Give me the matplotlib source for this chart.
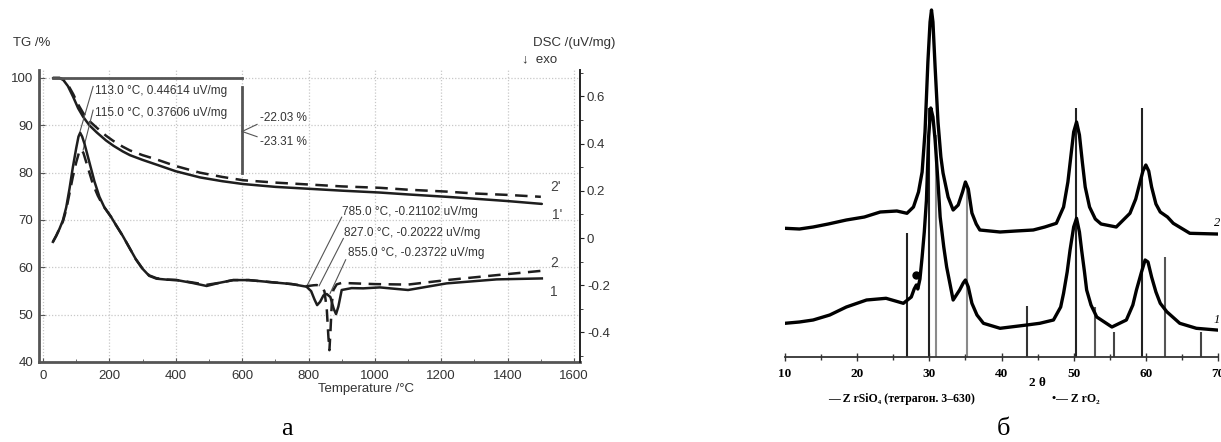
import matplotlib
matplotlib.use("Agg")
import matplotlib.pyplot as plt
from matplotlib.ticker import MultipleLocator

W, H = 1221, 442

# ---------------- Panel a: TG / DSC ----------------
tg_solid_T = [30, 50, 61, 75, 91, 106, 121, 140, 162, 190, 212, 240, 262, 300, 342, 400, 473, 540, 603, 700, 800, 900, 1015, 1100, 1216, 1300, 1400, 1503]
tg_solid_v = [100, 100, 99.6, 98.3, 96.0, 93.6, 91.8, 90.0, 88.5, 86.8, 85.7, 84.5, 83.7, 82.7, 81.7, 80.3, 79.0, 78.2, 77.6, 77.0, 76.6, 76.2, 75.8, 75.4, 74.9, 74.5, 74.0, 73.4]

tg_dash_T = [30, 50, 61, 75, 91, 106, 121, 140, 162, 190, 212, 240, 262, 300, 342, 400, 473, 540, 603, 700, 800, 900, 1015, 1100, 1216, 1300, 1400, 1500]
tg_dash_v = [100, 100, 99.7, 98.6, 96.6, 94.4, 92.6, 90.9, 89.5, 87.8, 86.7, 85.5, 84.7, 83.7, 82.8, 81.4, 80.0, 79.1, 78.4, 77.9, 77.5, 77.1, 76.8, 76.4, 76.0, 75.6, 75.3, 74.9]

dsc_solid_T = [30, 40, 50, 60, 70, 80, 90, 100, 107, 112, 118, 125, 140, 155, 170, 185, 195, 205, 220, 240, 260, 280, 300, 320, 342, 372, 403, 450, 493, 530, 573, 620, 673, 750, 794, 808, 818, 826, 835, 845, 855, 866, 876, 883, 890, 900, 930, 965, 1015, 1100, 1216, 1367, 1503]
dsc_solid_v = [-0.016, 0.01, 0.04, 0.075, 0.13, 0.21, 0.30, 0.38, 0.43, 0.446, 0.43, 0.40, 0.32, 0.24, 0.175, 0.13, 0.11, 0.09, 0.055, 0.01, -0.04, -0.09, -0.13, -0.16, -0.172, -0.176, -0.178, -0.19, -0.203, -0.19, -0.178, -0.178, -0.185, -0.195, -0.206, -0.225, -0.26, -0.284, -0.27, -0.243, -0.237, -0.25, -0.30, -0.322, -0.29, -0.22, -0.212, -0.213, -0.209, -0.22, -0.192, -0.175, -0.171]

dsc_dash_T = [30, 40, 50, 60, 70, 80, 90, 100, 108, 115, 122, 135, 150, 165, 180, 195, 205, 220, 240, 260, 280, 300, 320, 342, 372, 403, 450, 493, 530, 573, 620, 673, 750, 794, 815, 825, 838, 848, 855, 860, 863, 866, 870, 875, 885, 900, 1000, 1100, 1216, 1367, 1500]
dsc_dash_v = [-0.016, 0.01, 0.04, 0.07, 0.12, 0.19, 0.26, 0.32, 0.36, 0.376, 0.36, 0.30, 0.23, 0.18, 0.14, 0.11, 0.09, 0.055, 0.01, -0.04, -0.09, -0.13, -0.158, -0.17, -0.176, -0.178, -0.188, -0.198, -0.19, -0.178, -0.178, -0.185, -0.195, -0.204, -0.2, -0.199, -0.205, -0.225, -0.30, -0.42, -0.475, -0.40, -0.28, -0.22, -0.196, -0.19, -0.195, -0.197, -0.178, -0.157, -0.139]

tg_ticks = [40, 50, 60, 70, 80, 90, 100]
dsc_ticks = [-0.4, -0.2, 0, 0.2, 0.4, 0.6]
dsc_ticklabels = ["-0.4", "-0.2", "0", "0.2", "0.4", "0.6"]
temp_ticks = [0, 200, 400, 600, 800, 1000, 1200, 1400, 1600]

peak_notes = ["113.0 °C, 0.44614 uV/mg", "115.0 °C, 0.37606 uV/mg"]
step_notes = ["-22.03 %", "-23.31 %"]
onset_notes = ["785.0 °C, -0.21102 uV/mg", "827.0 °C, -0.20222 uV/mg", "855.0 °C, -0.23722 uV/mg"]
curve_labels = ["2'", "1'", "2", "1"]

# ---------------- Panel b: XRD ----------------
xrd2_theta = [10.0, 12.0, 13.9, 16.0, 18.5, 21.0, 23.2, 25.5, 26.9, 27.8, 28.5, 29.0, 29.4, 29.8, 30.1, 30.3, 30.5, 30.8, 31.2, 31.6, 31.9, 32.6, 33.3, 34.0, 34.6, 35.0, 35.4, 35.9, 36.5, 37.0, 39.8, 42.0, 44.4, 46.0, 47.6, 48.6, 49.2, 49.6, 50.0, 50.4, 50.8, 51.2, 51.6, 52.2, 53.0, 53.8, 55.9, 57.8, 58.6, 59.2, 59.6, 60.0, 60.4, 60.8, 61.4, 62.0, 62.6, 63.0, 63.8, 66.1, 69.8]
xrd2_int = [128.7, 128, 130, 133, 137, 140, 145, 146, 143.7, 150, 165, 185, 225, 295, 335, 347, 335, 290, 235, 200, 184, 160, 147, 152, 165, 175, 168, 144, 133, 127, 125, 126, 127, 130, 133.7, 150, 175, 200, 225, 235, 222, 195, 170, 150, 138, 133, 130, 143.7, 158, 175, 186, 192, 186, 170, 153, 145, 142, 140, 133.7, 123.7, 123]

xrd1_theta = [10.0, 12.0, 13.9, 16.2, 18.5, 21.3, 24.0, 26.4, 27.5, 27.9, 28.2, 28.4, 28.7, 29.0, 29.3, 29.6, 29.9, 30.2, 30.5, 30.8, 31.2, 31.5, 32.0, 32.4, 33.3, 34.2, 34.7, 35.0, 35.4, 35.9, 36.6, 37.5, 39.8, 43.5, 45.3, 47.2, 48.2, 48.6, 49.1, 49.5, 50.0, 50.4, 50.8, 51.1, 51.5, 51.8, 52.4, 53.2, 55.3, 57.3, 58.2, 58.7, 59.4, 59.9, 60.3, 60.8, 61.4, 62.0, 62.9, 64.7, 67.0, 69.8]
xrd1_int = [33.7, 35, 37, 42, 50, 57, 58.7, 53.7, 60, 68, 72, 68, 78, 100, 125, 157, 220, 249, 240, 217, 175, 140, 110, 90, 57, 67, 74, 77, 70, 53.7, 42, 33.7, 28.7, 32, 33.7, 37, 50, 63.7, 85, 107, 130, 138.7, 125, 107, 85, 67, 52, 40, 30, 37, 52, 67, 85, 97, 95, 80, 65, 53.7, 45.3, 33.7, 28.7, 27]

stick_pos = [26.9, 30.0, 30.9, 35.2, 43.5, 50.3, 53.0, 55.6, 59.5, 62.7, 67.7]
stick_h = [124, 249, 222, 170, 51, 249, 50, 25, 249, 100, 25]
stick_shade = ["#222222", "#222222", "#8a8a8a", "#8a8a8a", "#333333", "#222222", "#555555", "#444444", "#222222", "#555555", "#444444"]
zro2_marker = (28.1, 82)
xrd_ticks = [10, 20, 30, 40, 50, 60, 70]

# ---------------- figure ----------------
fig = plt.figure(figsize=(W / 100, H / 100), dpi=100)

def fx(x):
    return x / W

def fy(y):
    return 1 - y / H

sans = "Liberation Sans"
serif = "Liberation Serif"
gray_txt = "#333333"

ax = fig.add_axes([fx(39), fy(362), (580 - 39) / W, (362 - 70) / H])
ax.set_xlim(-12, 1618)
ax.set_ylim(40, 101.69)
ax2 = ax.twinx()
ax2.set_ylim(-0.525, 0.712)

for s in ["top", "right"]:
    ax.spines[s].set_visible(False)
for s in ["left", "bottom"]:
    ax.spines[s].set_color("#555555")
    ax.spines[s].set_linewidth(2.0)
for s in ["top", "left", "bottom"]:
    ax2.spines[s].set_visible(False)
ax2.spines["right"].set_color("#222222")
ax2.spines["right"].set_linewidth(1.4)

ax.set_xticks(temp_ticks)
ax.xaxis.set_minor_locator(MultipleLocator(100))
ax.set_yticks(tg_ticks)
ax.tick_params(axis="both", which="both", direction="in", colors="#555555", labelcolor=gray_txt, labelsize=9.5)
ax.tick_params(axis="x", which="major", length=3, pad=6)
ax.tick_params(axis="x", which="minor", length=2)
ax.tick_params(axis="y", which="major", length=4, pad=4)
for lab in ax.get_xticklabels() + ax.get_yticklabels():
    lab.set_family(sans)
ax2.set_yticks(dsc_ticks)
ax2.set_yticklabels(dsc_ticklabels)
ax2.yaxis.set_minor_locator(MultipleLocator(0.1))
ax2.tick_params(axis="y", which="both", direction="out", colors="#222222", labelcolor=gray_txt, labelsize=9.5, length=3, pad=2)
ax2.tick_params(axis="y", which="minor", length=2)
for lab in ax2.get_yticklabels():
    lab.set_family(sans)

ax.grid(True, which="major", color="#c8c8c8", linestyle=(0, (1, 1.5)), linewidth=0.9)
ax.set_axisbelow(True)

line_c = "#1e1e1e"
ax.plot(tg_solid_T, tg_solid_v, color=line_c, lw=1.8, solid_capstyle="round")
ax.plot(tg_dash_T, tg_dash_v, color=line_c, lw=1.8, ls=(0, (5, 3)))
ax2.plot(dsc_solid_T, dsc_solid_v, color=line_c, lw=1.8)
ax2.plot(dsc_dash_T, dsc_dash_v, color=line_c, lw=1.8, ls=(0, (5, 3)))

# step annotation
ann_c = "#555555"
ax.plot([30, 600], [100, 100], color=ann_c, lw=2.0)
ax.plot([600, 600], [98.0, 80.0], color=ann_c, lw=2.0)
ax.plot([600, 645], [88.7, 90.2], color=ann_c, lw=0.8)
ax.plot([600, 645], [88.7, 87.6], color=ann_c, lw=0.8)
ax.text(654, 91.5, step_notes[0], fontsize=8.5, family=sans, color=gray_txt, va="center")
ax.text(654, 86.5, step_notes[1], fontsize=8.5, family=sans, color=gray_txt, va="center")

# peak annotations
ax.plot([151, 111.5], [98.2, 88.7], color=ann_c, lw=0.8)
ax.plot([151, 121], [93.2, 84.8], color=ann_c, lw=0.8)
ax.text(157, 97.3, peak_notes[0], fontsize=8.5, family=sans, color=gray_txt, va="center")
ax.text(157, 92.6, peak_notes[1], fontsize=8.5, family=sans, color=gray_txt, va="center")

# onset annotations
ax.plot([900, 794], [70.6, 55.9], color=ann_c, lw=0.8)
ax.plot([905, 832], [66.1, 56.1], color=ann_c, lw=0.8)
ax.plot([912, 865], [61.6, 54.5], color=ann_c, lw=0.8)
ax.text(901, 71.7, onset_notes[0], fontsize=8.5, family=sans, color=gray_txt, va="center")
ax.text(907, 67.3, onset_notes[1], fontsize=8.5, family=sans, color=gray_txt, va="center")
ax.text(919, 63.0, onset_notes[2], fontsize=8.5, family=sans, color=gray_txt, va="center")

# curve labels
for lab, (tx, ty) in zip(curve_labels, [(1528, 77.0), (1534, 71.1), (1528, 60.9), (1528, 54.8)]):
    ax.text(tx, ty, lab, fontsize=10, family=sans, color="#444444", va="center")

fig.text(fx(13), fy(43), "TG /%", fontsize=9.5, family=sans, color=gray_txt, va="center")
fig.text(fx(533), fy(43), "DSC /(uV/mg)", fontsize=9.5, family=sans, color=gray_txt, va="center")
fig.text(fx(522), fy(59), "↓  exo", fontsize=9.5, family=["Liberation Sans", "DejaVu Sans"], color=gray_txt, va="center")
fig.text(fx(366), fy(389), "Temperature /°C", fontsize=9.5, family=sans, color=gray_txt, ha="center", va="center")
fig.text(fx(287), fy(429), "а", fontsize=19, family=serif, color="black", ha="center", va="center")

# ---------------- XRD axes ----------------
ax3 = fig.add_axes([fx(785), fy(357), 433 / W, 352 / H])
ax3.set_xlim(10, 70)
ax3.set_ylim(0, 352)
for s in ["top", "right", "left"]:
    ax3.spines[s].set_visible(False)
ax3.spines["bottom"].set_color("#333333")
ax3.spines["bottom"].set_linewidth(1.3)
ax3.set_yticks([])
ax3.set_xticks(xrd_ticks)
ax3.xaxis.set_minor_locator(MultipleLocator(5))
ax3.tick_params(axis="x", which="major", direction="inout", length=6, width=1.0, colors="#333333",
                labelcolor="black", labelsize=9.5, pad=5)
ax3.tick_params(axis="x", which="minor", direction="inout", length=4, width=1.0, colors="#333333")
for lab in ax3.get_xticklabels():
    lab.set_family(serif)
    lab.set_fontweight("bold")

ax3.vlines(stick_pos, 0, stick_h, colors=stick_shade, lw=1.5)
ax3.plot(xrd2_theta, xrd2_int, color="black", lw=2.4, solid_joinstyle="round")
ax3.plot(xrd1_theta, xrd1_int, color="black", lw=2.4, solid_joinstyle="round")
ax3.plot([zro2_marker[0]], [zro2_marker[1]], marker="o", ms=5, color="black")
ax3.patch.set_alpha(0)

fig.text(fx(1214), fy(223), "2", fontsize=9, family=serif, style="italic", color="black", va="center")
fig.text(fx(1214), fy(320), "1", fontsize=9, family=serif, style="italic", color="black", va="center")
fig.text(fx(1037), fy(383), "2 θ", fontsize=9.5, family=serif, fontweight="bold", ha="center", va="center")
fig.text(fx(828), fy(399), "— Z rSiO₄ (тетрагон. 3–630)", fontsize=8.5, family=serif, fontweight="bold", va="center")
fig.text(fx(1052), fy(399), "•— Z rO₂", fontsize=8.5, family=serif, fontweight="bold", va="center")
fig.text(fx(1003), fy(429), "б", fontsize=19, family=serif, color="black", ha="center", va="center")

fig.savefig("out.png", dpi=100)
